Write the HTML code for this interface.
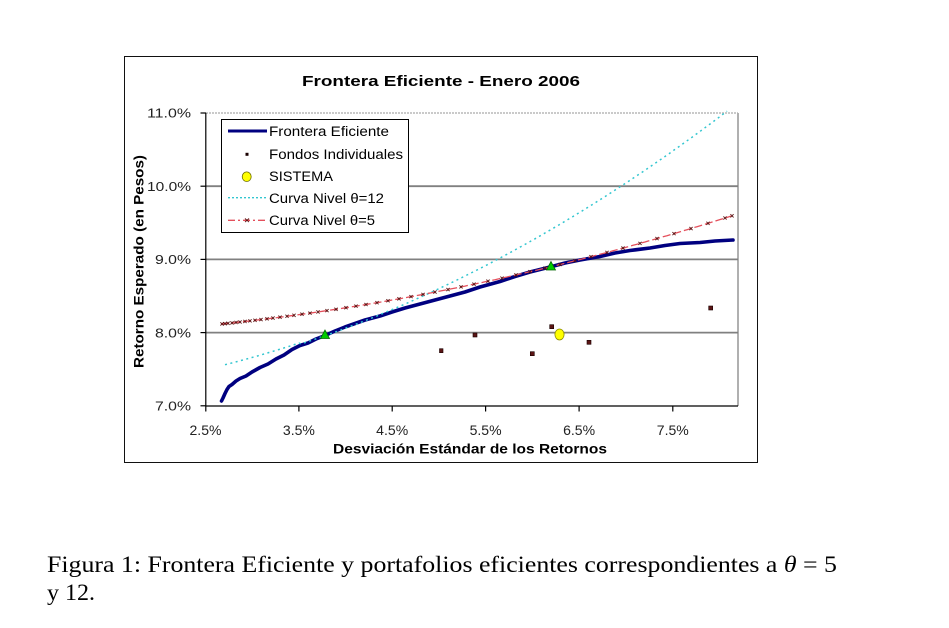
<!DOCTYPE html>
<html>
<head>
<meta charset="utf-8">
<style>
html,body{margin:0;padding:0;background:#fff;}
svg{display:block;}
.s{font-family:"Liberation Sans",Arial,sans-serif;}
.c{font-family:"Liberation Serif","Times New Roman",serif;}
</style>
</head>
<body>
<svg width="949" height="628" viewBox="0 0 949 628" xmlns="http://www.w3.org/2000/svg">
<rect x="0" y="0" width="949" height="628" fill="#fff"/>
<!-- outer chart border -->
<rect x="124.5" y="56.5" width="633" height="406" fill="#fff" stroke="#111" stroke-width="1"/>

<!-- title -->
<text class="s" x="302" y="86" font-size="15" font-weight="bold" fill="#000" textLength="278" lengthAdjust="spacingAndGlyphs">Frontera Eficiente - Enero 2006</text>

<!-- plot area gridlines -->
<line x1="206" y1="113" x2="738" y2="113" stroke="#b8b8b8" stroke-width="1.5" stroke-dasharray="2 1"/>
<line x1="738" y1="113" x2="738" y2="406" stroke="#b0b0b0" stroke-width="2"/>
<line x1="206" y1="186.2" x2="738" y2="186.2" stroke="#808080" stroke-width="1.8"/>
<line x1="206" y1="259.4" x2="738" y2="259.4" stroke="#808080" stroke-width="1.8"/>
<line x1="206" y1="332.6" x2="738" y2="332.6" stroke="#808080" stroke-width="1.8"/>

<!-- axes -->
<line x1="205.8" y1="113" x2="205.8" y2="406.5" stroke="#000" stroke-width="1.2"/>
<line x1="205.5" y1="406" x2="738" y2="406" stroke="#000" stroke-width="1.2"/>
<!-- y ticks -->
<g stroke="#000" stroke-width="1.2">
<line x1="200.5" y1="113" x2="206" y2="113"/>
<line x1="200.5" y1="186.2" x2="206" y2="186.2"/>
<line x1="200.5" y1="259.4" x2="206" y2="259.4"/>
<line x1="200.5" y1="332.6" x2="206" y2="332.6"/>
<line x1="200.5" y1="405.8" x2="206" y2="405.8"/>
<!-- x ticks -->
<line x1="205.8" y1="406" x2="205.8" y2="411.5"/>
<line x1="298.9" y1="406" x2="298.9" y2="411.5"/>
<line x1="392.2" y1="406" x2="392.2" y2="411.5"/>
<line x1="485.6" y1="406" x2="485.6" y2="411.5"/>
<line x1="579.1" y1="406" x2="579.1" y2="411.5"/>
<line x1="672.8" y1="406" x2="672.8" y2="411.5"/>
</g>

<!-- y tick labels -->
<g class="s" font-size="13" fill="#222" text-anchor="end">
<text x="191" y="117.7" textLength="44" lengthAdjust="spacingAndGlyphs">11.0%</text>
<text x="191" y="190.9" textLength="44" lengthAdjust="spacingAndGlyphs">10.0%</text>
<text x="191" y="264.1" textLength="36" lengthAdjust="spacingAndGlyphs">9.0%</text>
<text x="191" y="337.3" textLength="36" lengthAdjust="spacingAndGlyphs">8.0%</text>
<text x="191" y="410.5" textLength="36" lengthAdjust="spacingAndGlyphs">7.0%</text>
</g>
<!-- x tick labels -->
<g class="s" font-size="13.5" fill="#222">
<text x="189.5" y="435" textLength="32" lengthAdjust="spacingAndGlyphs">2.5%</text>
<text x="282.9" y="435" textLength="32" lengthAdjust="spacingAndGlyphs">3.5%</text>
<text x="376.2" y="435" textLength="32" lengthAdjust="spacingAndGlyphs">4.5%</text>
<text x="469.6" y="435" textLength="32" lengthAdjust="spacingAndGlyphs">5.5%</text>
<text x="563.1" y="435" textLength="32" lengthAdjust="spacingAndGlyphs">6.5%</text>
<text x="656.8" y="435" textLength="32" lengthAdjust="spacingAndGlyphs">7.5%</text>
</g>

<!-- axis titles -->
<text class="s" x="333" y="453.5" font-size="14" font-weight="bold" fill="#000" textLength="274" lengthAdjust="spacingAndGlyphs">Desviación Estándar de los Retornos</text>
<text class="s" transform="translate(143.5,368) rotate(-90)" x="0" y="0" font-size="14" font-weight="bold" fill="#000" textLength="213" lengthAdjust="spacingAndGlyphs">Retorno Esperado (en Pesos)</text>

<!-- Efficient frontier -->
<polyline fill="none" stroke="#000080" stroke-width="3.6" stroke-linejoin="round" stroke-linecap="round"
points="221.5,401 223,398 225,393.5 227,389.5 229,386.5 232,384.5 236,381 240,378.5 246,376 252,372 260,367.5 268,364 276,359 284,355 292,349.5 300,345.5 308,343 316,339 325,335.5 335,331 345,327 355,323.5 365,320 380,316 392,312 405,308 420,304 435,300 450,296 465,292 480,287 500,281.5 515,276.5 530,272 550,267 565,263 580,260 600,256.5 615,253 630,250.5 650,248 665,245.5 680,243.5 700,242.5 715,241 733,240"/>

<!-- Curva nivel theta=12 (cyan dotted) -->
<path id="cyan" fill="none" stroke="#33c6d0" stroke-width="1.5" stroke-dasharray="2 3.5" d=""/>

<!-- Curva nivel theta=5 (red dashed) -->
<path id="red" fill="none" stroke="#e4505c" stroke-width="1.3" stroke-dasharray="8 3" d=""/>
<g id="redmk" stroke="#5a1010" stroke-width="0.9"></g>

<!-- Fondos individuales -->
<g fill="#5a1414" stroke="#1a0000" stroke-width="0.6">
<rect x="439.5" y="348.7" width="3.5" height="4"/>
<rect x="473" y="333" width="4" height="4"/>
<rect x="530.3" y="351.7" width="4" height="4"/>
<rect x="549.7" y="324.7" width="4" height="4"/>
<rect x="587" y="340.3" width="4" height="4"/>
<rect x="708.7" y="306" width="4" height="4"/>
</g>
<!-- SISTEMA -->
<ellipse cx="559.5" cy="334.5" rx="4.6" ry="5.5" fill="#ffff00" stroke="#8a8a00" stroke-width="0.8"/>
<!-- tangency triangles -->
<polygon points="325,330 329.5,338.5 320.5,338.5" fill="#00cc00" stroke="#006400" stroke-width="0.8"/>
<polygon points="551,261.5 555.5,270 546.5,270" fill="#00cc00" stroke="#006400" stroke-width="0.8"/>

<!-- legend -->
<rect x="221.5" y="119.5" width="187" height="113" fill="#fff" stroke="#000" stroke-width="1"/>
<line x1="228" y1="131" x2="267" y2="131" stroke="#000080" stroke-width="3"/>
<rect x="245.5" y="152.8" width="3" height="3" fill="#1a0000"/>
<ellipse cx="246.7" cy="176.7" rx="4.5" ry="4.8" fill="#ffff00" stroke="#6a6a00" stroke-width="0.8"/>
<line x1="228" y1="197.7" x2="267" y2="197.7" stroke="#33c6d0" stroke-width="1.3" stroke-dasharray="2 2"/>
<line x1="228" y1="220.3" x2="267" y2="220.3" stroke="#e4505c" stroke-width="1.3" stroke-dasharray="7 3 2 3"/>
<g stroke="#5a1010" stroke-width="0.9"><line x1="245" y1="218.5" x2="249" y2="222.1"/><line x1="245" y1="222.1" x2="249" y2="218.5"/></g>
<g class="s" font-size="13.5" fill="#000">
<text x="269" y="136" textLength="120" lengthAdjust="spacingAndGlyphs">Frontera Eficiente</text>
<text x="269" y="159" textLength="134" lengthAdjust="spacingAndGlyphs">Fondos Individuales</text>
<text x="269" y="181" textLength="64" lengthAdjust="spacingAndGlyphs">SISTEMA</text>
<text x="269" y="203" textLength="115" lengthAdjust="spacingAndGlyphs">Curva Nivel θ=12</text>
<text x="269" y="225" textLength="106" lengthAdjust="spacingAndGlyphs">Curva Nivel θ=5</text>
</g>

<!-- caption -->
<text class="c" x="47" y="572" font-size="23" fill="#000" textLength="790" lengthAdjust="spacingAndGlyphs">Figura 1: Frontera Eficiente y portafolios eficientes correspondientes a <tspan font-style="italic">θ</tspan> = 5</text>
<text class="c" x="47" y="600" font-size="23" fill="#000" textLength="48" lengthAdjust="spacingAndGlyphs">y 12.</text>

<script>
(function(){
  function X(s){return 205.8+(s-2.5)*93.3;}
  function Y(e){return 406-(e-7)*73.2;}
  // cyan: E = U + 6 s^2 (in fraction units)
  var d="";
  for(var x=225;x<=727;x+=2){
    var s=(2.5+(x-205.8)/93.3)/100;
    var e=(0.07104+6*s*s)*100;
    var y=Y(e)+ (x<300? -1.5:0);
    d+=(d?"L":"M")+x.toFixed(1)+","+y.toFixed(1);
  }
  document.getElementById("cyan").setAttribute("d",d);
  // red: E = U + 2.5 s^2
  function RY(x){var s=(2.5+(x-205.8)/93.3)/100;return Y((0.07942+2.5*s*s)*100);}
  var d2="";
  for(var x2=221;x2<=732;x2+=2){
    d2+=(d2?"L":"M")+x2+","+RY(x2).toFixed(1);
  }
  document.getElementById("red").setAttribute("d",d2);
  var mk=[222,225,228,232,236,240,245,250,255,261,267,273,280,287,294,302,310,318,327,336,346,356,366,377,388,399,411,423,435,448,461,474,488,502,516,530,545,560,575,591,607,623,640,657,674,691,708,725,732];
  var g=document.getElementById("redmk"),ns="http://www.w3.org/2000/svg";
  mk.forEach(function(x){
    var y=RY(x);
    var a=document.createElementNS(ns,"line");
    a.setAttribute("x1",x-1.6);a.setAttribute("y1",y-1.6);a.setAttribute("x2",x+1.6);a.setAttribute("y2",y+1.6);
    var b=document.createElementNS(ns,"line");
    b.setAttribute("x1",x-1.6);b.setAttribute("y1",y+1.6);b.setAttribute("x2",x+1.6);b.setAttribute("y2",y-1.6);
    g.appendChild(a);g.appendChild(b);
  });
})();
</script>
</svg>
</body>
</html>
